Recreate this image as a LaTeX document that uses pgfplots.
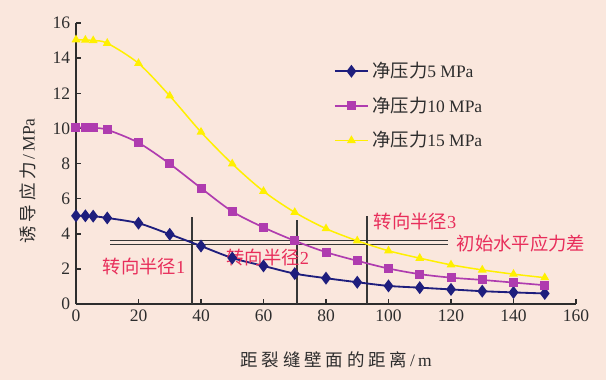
\documentclass[border=0pt]{standalone}
\usepackage{fontspec}
\setmainfont{Liberation Serif}
\newfontfamily\cjk{Noto Sans CJK SC}
\newfontfamily\cjkw[LetterSpace=22]{Noto Sans CJK SC}
\usepackage{pgfplots}
\pgfplotsset{compat=1.18}
\definecolor{bg}{RGB}{250,231,221}
\definecolor{navy}{RGB}{30,30,125}
\definecolor{mag}{RGB}{175,60,175}
\definecolor{yel}{RGB}{255,240,0}
\definecolor{refl}{RGB}{55,55,55}
\definecolor{txtred}{RGB}{232,45,90}
\definecolor{axc}{RGB}{45,45,45}
\begin{document}
\begin{tikzpicture}[x=1pt,y=1pt]
\fill[bg] (-45.6,-45.6) rectangle (318,182.4);
\useasboundingbox (-45.6,-45.6) rectangle (318,182.4);
\begin{axis}[
  at={(0,0)}, anchor=south west,
  scale only axis, width=300pt, height=168.6pt,
  xmin=0, xmax=160, ymin=0, ymax=16,
  axis lines=left,
  axis line style={-, line width=1.2pt, color=axc},
  tick align=inside,
  major tick length=3pt,
  tick style={line width=0.9pt, color=axc},
  xtick={0,20,...,160}, ytick={0,2,...,16},
  minor tick num=0,
  /pgf/number format/assume math mode=true,
  ticklabel style={font=\fontsize{10.5}{12}\selectfont, text=axc},
  xlabel={{\cjkw 距裂缝壁面的距离}\,/\,m},
  ylabel={{\cjkw 诱导应力}\,/\,MPa},
  xlabel style={at={(axis description cs:0.52,-0.2)}, anchor=center, font=\fontsize{10.5}{12}\selectfont, text=axc},
  ylabel style={at={(axis description cs:-0.096,0.438)}, anchor=center, rotate=0, font=\fontsize{10.5}{12}\selectfont, text=axc},
  legend style={at={(axis description cs:0.505,0.885)}, anchor=north west, draw=none, fill=none,
    font=\fontsize{10.5}{12}\selectfont, row sep=6pt, text=axc},
  legend cell align=left,
  legend image code/.code={\draw[mark repeat=2, mark phase=2] plot coordinates {(0pt,0pt)(10pt,0pt)(20pt,0pt)};},
  clip=false,
]
% reference lines
\addplot[refl, line width=1.3pt, forget plot] coordinates {(37,0)(37,4.95)};
\addplot[refl, line width=1.3pt, forget plot] coordinates {(70.8,0)(70.8,4.8)};
\addplot[refl, line width=1.3pt, forget plot] coordinates {(93,0)(93,5.0)};
\addplot[refl, line width=0.7pt, forget plot] coordinates {(11,3.6)(119,3.6)};
\addplot[refl, line width=0.7pt, forget plot] coordinates {(11,3.38)(119,3.38)};
% data
\addplot[navy, line width=1.1pt, smooth, mark=diamond*, mark size=3pt, mark options={fill=navy, draw=navy}] coordinates {
(0,5.02)(3,5.02)(5.5,5.0)(10,4.9)(20,4.6)(30,3.97)(40,3.3)(50,2.62)(60,2.17)(70,1.73)
(80,1.47)(90,1.24)(100,1.03)(110,0.93)(120,0.83)(130,0.73)(140,0.66)(150,0.6)};
\addlegendentry{{\cjk\fontsize{11}{12}\selectfont 净压力}5 MPa}
\addplot[mag, line width=1pt, smooth, mark=square*, mark size=2.2pt, mark options={fill=mag, draw=mag}] coordinates {
(0,10.05)(3,10.05)(5.5,10.03)(10,9.92)(20,9.18)(30,7.98)(40,6.6)(50,5.27)(60,4.36)(70,3.6)
(80,2.95)(90,2.46)(100,2.02)(110,1.7)(120,1.5)(130,1.37)(140,1.22)(150,1.07)};
\addlegendentry{{\cjk\fontsize{11}{12}\selectfont 净压力}10 MPa}
\addplot[yel, line width=0.9pt, smooth, mark=triangle*, mark size=2.2pt, mark options={fill=yel, draw=yel}] coordinates {
(0,15.05)(3,15.03)(5.5,15.0)(10,14.85)(20,13.7)(30,11.85)(40,9.79)(50,7.98)(60,6.42)(70,5.22)
(80,4.29)(90,3.6)(100,3.03)(110,2.61)(120,2.23)(130,1.94)(140,1.7)(150,1.5)};
\addlegendentry{{\cjk\fontsize{11}{12}\selectfont 净压力}15 MPa}
% labels
\node[text=txtred, font=\fontsize{11}{13}\selectfont] at (axis cs:21.8,2.16) {{\cjk 转向半径}1};
\node[text=txtred, font=\fontsize{11}{13}\selectfont] at (axis cs:61.4,2.66) {{\cjk 转向半径}2};
\node[text=txtred, font=\fontsize{11}{13}\selectfont] at (axis cs:108.5,4.69) {{\cjk 转向半径}3};
\node[text=txtred, font=\cjk\fontsize{11}{13}\selectfont] at (axis cs:142.4,3.42) {初始水平应力差};
\end{axis}
\end{tikzpicture}
\end{document}
